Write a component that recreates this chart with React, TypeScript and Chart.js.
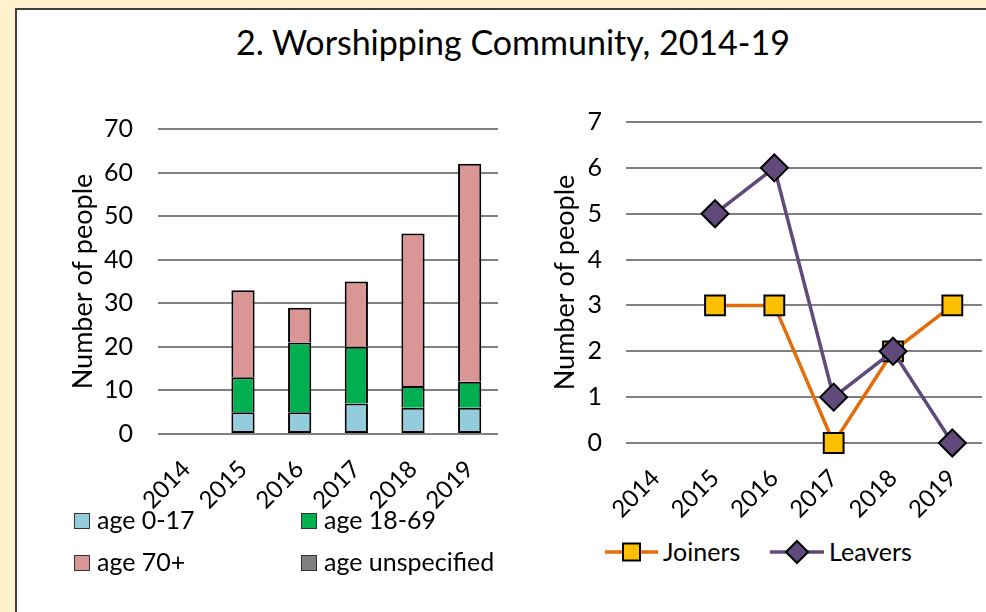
import React, { useEffect, useRef } from "react";
import { Chart, registerables } from "chart.js";

Chart.register(...registerables);

const FONT = 'Lato, "DejaVu Sans", sans-serif';

const categories = ["2014", "2015", "2016", "2017", "2018", "2019"];
const age0to17: (number | null)[] = [null, 5, 5, 7, 6, 6];
const age18to69: (number | null)[] = [null, 8, 16, 13, 5, 6];
const age70plus: (number | null)[] = [null, 20, 8, 15, 35, 50];
const ageUnspecified: (number | null)[] = [null, 0, 0, 0, 0, 0];
const joiners: (number | null)[] = [null, 3, 3, 0, 2, 3];
const leavers: (number | null)[] = [null, 5, 6, 1, 2, 0];

const barSeriesNames = ["age 0-17", "age 18-69", "age 70+", "age unspecified"];
const barColors = ["#93CDDD", "#00B050", "#D99694", "#808080"];
const lineSeriesNames = ["Joiners", "Leavers"];
const lineColors = ["#E46C0A", "#604A7B"];
const markerColors = ["#FFC000", "#604A7B"];

const titleText = "2. Worshipping Community, 2014-19";
const yTitle = "Number of people";
const leftMax = 70;
const leftStep = 10;
const rightMax = 7;
const rightStep = 1;

const GRID = "#808080";

export default function App() {
  const leftRef = useRef<HTMLCanvasElement>(null);
  const rightRef = useRef<HTMLCanvasElement>(null);

  useEffect(() => {
    Chart.defaults.font.family = FONT;
    Chart.defaults.color = "#000";
    const barData = [age0to17, age18to69, age70plus, ageUnspecified];
    const xFit = (s: any) => {
      s.height = 80;
      s.paddingLeft = 0;
      s.paddingRight = 0;
    };
    const left = new Chart(leftRef.current!, {
      type: "bar",
      data: {
        labels: categories,
        datasets: barData.map((d, i) => ({
          label: barSeriesNames[i],
          data: d,
          backgroundColor: barColors[i],
          borderColor: "#000",
          borderWidth: 2,
          borderSkipped: (i === 0 ? false : "bottom") as any,
          categoryPercentage: 1,
          barPercentage: 0.41,
        })),
      },
      options: {
        animation: false,
        responsive: false,
        maintainAspectRatio: false,
        layout: { autoPadding: false, padding: { top: 29, right: 7, bottom: 0, left: 0 } },
        plugins: { legend: { display: false }, tooltip: { enabled: false } },
        scales: {
          x: {
            stacked: true,
            grid: { display: false },
            border: { display: false },
            ticks: {
              maxRotation: 45,
              minRotation: 45,
              autoSkip: false,
              padding: 13,
              font: { size: 24 },
              color: "#000",
            },
            afterFit: xFit,
          },
          y: {
            stacked: true,
            min: 0,
            max: leftMax,
            grid: { color: GRID, lineWidth: 2, drawTicks: false },
            border: { display: false },
            ticks: { stepSize: leftStep, padding: 25, font: { size: 25 }, color: "#000" },
            title: {
              display: true,
              text: yTitle,
              font: { size: 27 },
              color: "#000",
              padding: { top: 47, bottom: 0 },
            },
            afterFit: (s: any) => {
              s.width = 138;
              s.paddingTop = 0;
              s.paddingBottom = 0;
            },
          },
        },
      },
    });

    const lineData = [joiners, leavers];
    const styles = ["rect", "rectRot"];
    const radii = [14, 13.5];
    const right = new Chart(rightRef.current!, {
      type: "line",
      data: {
        labels: categories,
        datasets: lineData.map((d, i) => ({
          label: lineSeriesNames[i],
          data: d,
          borderColor: lineColors[i],
          borderWidth: 3.5,
          pointStyle: styles[i] as any,
          pointRadius: radii[i],
          pointBackgroundColor: markerColors[i],
          pointBorderColor: "#000",
          pointBorderWidth: 2,
          order: i === 0 ? 1 : 0,
          tension: 0,
          clip: false as any,
        })),
      },
      options: {
        animation: false,
        responsive: false,
        maintainAspectRatio: false,
        layout: { autoPadding: false, padding: { top: 27, right: 4, bottom: 0, left: 0 } },
        plugins: { legend: { display: false }, tooltip: { enabled: false } },
        scales: {
          x: {
            offset: true,
            grid: { display: false },
            border: { display: false },
            ticks: {
              maxRotation: 45,
              minRotation: 45,
              autoSkip: false,
              padding: 13,
              font: { size: 24 },
              color: "#000",
            },
            afterFit: xFit,
          },
          y: {
            min: 0,
            max: rightMax,
            grid: { color: GRID, lineWidth: 2, drawTicks: false },
            border: { display: false },
            ticks: { stepSize: rightStep, padding: 24, font: { size: 25 }, color: "#000" },
            title: {
              display: true,
              text: yTitle,
              font: { size: 27 },
              color: "#000",
              padding: { top: 24, bottom: 0 },
            },
            afterFit: (s: any) => {
              s.width = 101;
              s.paddingTop = 0;
              s.paddingBottom = 0;
            },
          },
        },
      },
    });

    return () => {
      left.destroy();
      right.destroy();
    };
  }, []);

  const legendText: React.CSSProperties = {
    position: "absolute",
    fontFamily: FONT,
    fontSize: 25,
    lineHeight: "30px",
    color: "#000",
    whiteSpace: "nowrap",
  };
  const leftLegendPos = [
    { x: 74, y: 521 },
    { x: 301, y: 521 },
    { x: 74, y: 563 },
    { x: 301, y: 563 },
  ];

  return (
    <div
      style={{
        position: "fixed",
        left: 0,
        top: 0,
        width: 986,
        height: 612,
        background: "#FFF2CC",
        overflow: "hidden",
      }}
    >
      <div
        style={{
          position: "absolute",
          left: 15,
          top: 8,
          width: 1000,
          height: 640,
          background: "#fff",
          border: "2px solid #3f3f3f",
          boxSizing: "border-box",
        }}
      />
      <div
        style={{
          position: "absolute",
          left: 13,
          width: 1000,
          top: 21,
          textAlign: "center",
          fontFamily: FONT,
          fontSize: 34,
          lineHeight: "42px",
          color: "#000",
          whiteSpace: "nowrap",
        }}
      >
        {titleText}
      </div>
      <canvas
        ref={leftRef}
        width={485}
        height={414}
        style={{ position: "absolute", left: 20, top: 100, width: 485, height: 414 }}
      />
      <canvas
        ref={rightRef}
        width={461}
        height={428}
        style={{ position: "absolute", left: 525, top: 95, width: 461, height: 428 }}
      />
      {barSeriesNames.map((n, i) => (
        <React.Fragment key={n}>
          <div
            style={{
              position: "absolute",
              left: leftLegendPos[i].x,
              top: leftLegendPos[i].y - 8,
              width: 16,
              height: 16,
              background: barColors[i],
              border: "1.5px solid #333",
              boxSizing: "border-box",
            }}
          />
          <div style={{ ...legendText, left: leftLegendPos[i].x + 23, top: leftLegendPos[i].y - 17 }}>{n}</div>
        </React.Fragment>
      ))}
      <svg style={{ position: "absolute", left: 600, top: 535, overflow: "visible" }} width={240} height={34}>
        <line x1={5} y1={17} x2={58} y2={17} stroke={lineColors[0]} strokeWidth={3.5} />
        <rect x={23} y={8.5} width={17} height={17} fill={markerColors[0]} stroke="#000" strokeWidth={2} />
        <line x1={170} y1={17} x2={224} y2={17} stroke={lineColors[1]} strokeWidth={3.5} />
        <polygon points="197,6 208,17 197,28 186,17" fill={markerColors[1]} stroke="#000" strokeWidth={2} />
      </svg>
      <div style={{ ...legendText, left: 663, top: 536 }}>{lineSeriesNames[0]}</div>
      <div style={{ ...legendText, left: 829, top: 536 }}>{lineSeriesNames[1]}</div>
    </div>
  );
}
